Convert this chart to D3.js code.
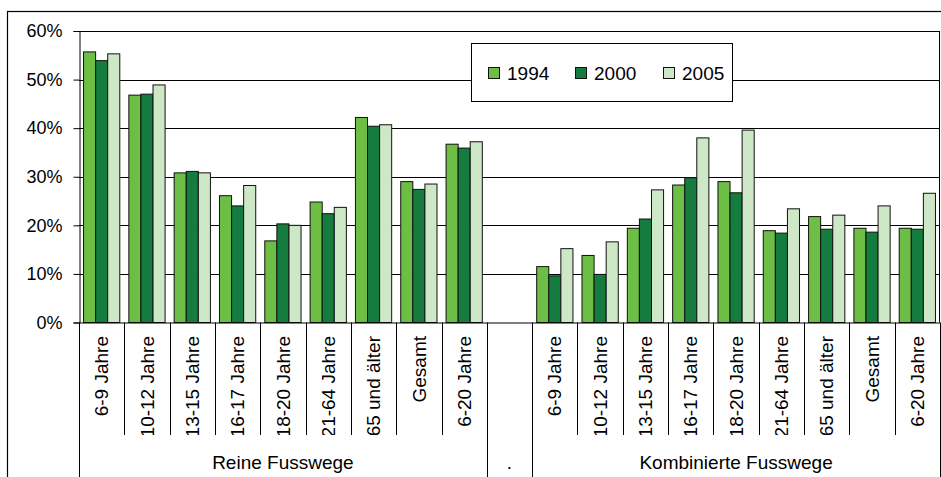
<!DOCTYPE html>
<html>
<head>
<meta charset="utf-8">
<script src="https://cdn.jsdelivr.net/npm/d3@7/dist/d3.min.js"></script>
<style>
  body { margin: 0; background: #fff; }
  svg { display: block; font-family: Arial, "Liberation Sans", sans-serif; }
</style>
</head>
<body>
<svg id="chart" width="941" height="477"></svg>
<script>
'use strict';

// data
var ageGroups = ['6-9 Jahre', '10-12 Jahre', '13-15 Jahre', '16-17 Jahre', '18-20 Jahre',
                 '21-64 Jahre', '65 und älter', 'Gesamt', '6-20 Jahre'];
var groupNames = ['Reine Fusswege', '.', 'Kombinierte Fusswege'];
var years = ['1994', '2000', '2005'];
var yTicks = [0, 0.1, 0.2, 0.3, 0.4, 0.5, 0.6];

var reine1994 = [55.7, 46.8, 30.8, 26.1, 16.8, 24.8, 42.2, 29.0, 36.7];
var reine2000 = [53.9, 47.0, 31.1, 24.0, 20.3, 22.4, 40.4, 27.4, 35.9];
var reine2005 = [55.3, 48.9, 30.8, 28.2, 20.0, 23.7, 40.7, 28.5, 37.2];

var komb1994 = [11.5, 13.8, 19.4, 28.3, 29.0, 18.9, 21.8, 19.4, 19.4];
var komb2000 = [9.6, 9.9, 21.3, 29.8, 26.7, 18.4, 19.2, 18.6, 19.2];
var komb2005 = [15.2, 16.6, 27.3, 38.0, 39.6, 23.4, 22.1, 24.0, 26.6];

var colors = { '1994': '#6cbe45', '2000': '#147c3e', '2005': '#cee7c6' };

(function() {
  // build one row per slot (9 + spacer + 9)
  var slots = [];
  ageGroups.forEach(function(a, i) {
    slots.push({ key: 'R' + i, label: a, group: 0, vals: [reine1994[i], reine2000[i], reine2005[i]] });
  });
  slots.push({ key: 'gap', label: '', group: 1, vals: [] });
  ageGroups.forEach(function(a, i) {
    slots.push({ key: 'K' + i, label: a, group: 2, vals: [komb1994[i], komb2000[i], komb2005[i]] });
  });

  var svg = d3.select('#chart');
  var pLeft = 79, pRight = 940, pTop = 31, pBottom = 322.5;
  var labelSize = 19;

  // outer frame
  svg.append('rect')
    .attr('x', 7.5).attr('y', 11.5)
    .attr('width', 1000).attr('height', 600)
    .attr('fill', 'none').attr('stroke', '#000').attr('stroke-width', 1.2);

  var x0 = d3.scaleBand().domain(slots.map(function(d){ return d.key; }))
    .range([pLeft, pRight]).padding(0);
  var x1 = d3.scaleBand().domain(years)
    .range([x0.step() * 0.1, x0.step() * 0.9]).padding(0);
  var y = d3.scaleLinear().domain([0, 0.6]).range([pBottom, pTop]);

  // gridlines
  svg.append('g').selectAll('line')
    .data(yTicks.slice(1))
    .enter().append('line')
    .attr('x1', pLeft).attr('x2', pRight)
    .attr('y1', function(d){ return Math.round(y(d)) + 0.5; })
    .attr('y2', function(d){ return Math.round(y(d)) + 0.5; })
    .attr('stroke', '#000').attr('stroke-width', 1);

  // right border of plot area
  svg.append('line')
    .attr('x1', pRight - 0.5).attr('x2', pRight - 0.5)
    .attr('y1', pTop).attr('y2', pBottom)
    .attr('stroke', '#000');

  // bars
  var slotG = svg.append('g').selectAll('g')
    .data(slots)
    .enter().append('g')
    .attr('transform', function(d){ return 'translate(' + x0(d.key) + ',0)'; });

  slotG.selectAll('rect')
    .data(function(d){ return d.vals.map(function(v, i){ return { year: years[i], val: v / 100 }; }); })
    .enter().append('rect')
    .attr('x', function(d){ return x1(d.year); })
    .attr('y', function(d){ return y(d.val); })
    .attr('width', x1.bandwidth())
    .attr('height', function(d){ return pBottom - y(d.val); })
    .attr('fill', function(d){ return colors[d.year]; })
    .attr('stroke', '#111').attr('stroke-width', 1);

  // y axis
  var yAxis = d3.axisLeft(y).tickValues(yTicks).tickFormat(d3.format('.0%')).tickSize(6).tickPadding(11);
  var yg = svg.append('g').attr('transform', 'translate(' + (pLeft + 0.5) + ',0)').call(yAxis);
  yg.select('.domain').attr('stroke', '#000');
  yg.selectAll('.tick line').attr('stroke', '#000');
  yg.selectAll('.tick text').attr('font-size', 18).attr('fill', '#000')
    .attr('font-family', 'Arial, "Liberation Sans", sans-serif');

  // x axis baseline
  svg.append('line')
    .attr('x1', pLeft).attr('x2', pRight)
    .attr('y1', pBottom + 0.5).attr('y2', pBottom + 0.5)
    .attr('stroke', '#000');

  // category separators
  var bounds = slots.map(function(d){ return x0(d.key); });
  bounds.push(pRight);
  var longOnes = [0, 9, 10, 19];
  svg.append('g').selectAll('line')
    .data(bounds)
    .enter().append('line')
    .attr('x1', function(d){ return Math.round(d) + 0.5; })
    .attr('x2', function(d){ return Math.round(d) + 0.5; })
    .attr('y1', pBottom)
    .attr('y2', function(d, i){ return longOnes.indexOf(i) >= 0 ? 477 : 435; })
    .attr('stroke', '#000');

  // category labels, clipped to first label row
  svg.append('clipPath').attr('id', 'labclip')
    .append('rect').attr('x', pLeft).attr('y', pBottom).attr('width', pRight - pLeft).attr('height', 435 - pBottom);

  svg.append('g').attr('clip-path', 'url(#labclip)')
    .selectAll('text')
    .data(slots.filter(function(d){ return d.label !== ''; }))
    .enter().append('text')
    .attr('transform', function(d){ return 'translate(' + (x0(d.key) + x0.bandwidth() / 2) + ',336) rotate(-90)'; })
    .attr('text-anchor', 'end')
    .attr('dy', '0.35em')
    .attr('font-size', labelSize)
    .text(function(d){ return d.label; });

  // group labels
  var groupSpans = [[0, 9], [9, 10], [10, 19]];
  svg.append('g').selectAll('text')
    .data(groupNames)
    .enter().append('text')
    .attr('x', function(d, i){ return (bounds[groupSpans[i][0]] + bounds[groupSpans[i][1]]) / 2; })
    .attr('y', 469)
    .attr('text-anchor', 'middle')
    .attr('font-size', labelSize)
    .text(function(d){ return d; });

  // legend
  var legend = svg.append('g');
  legend.append('rect')
    .attr('x', 471.5).attr('y', 43.5).attr('width', 261).attr('height', 58)
    .attr('fill', '#fff').attr('stroke', '#000');
  var legX = [488, 575, 663];
  var item = legend.selectAll('g.item')
    .data(years)
    .enter().append('g').attr('class', 'item')
    .attr('transform', function(d, i){ return 'translate(' + legX[i] + ',0)'; });
  item.append('rect')
    .attr('x', 0.5).attr('y', 67.5).attr('width', 11).attr('height', 11)
    .attr('fill', function(d){ return colors[d]; })
    .attr('stroke', '#111');
  item.append('text')
    .attr('x', 19).attr('y', 79.5)
    .attr('font-size', labelSize)
    .text(function(d){ return d; });
})();
</script>
</body>
</html>
